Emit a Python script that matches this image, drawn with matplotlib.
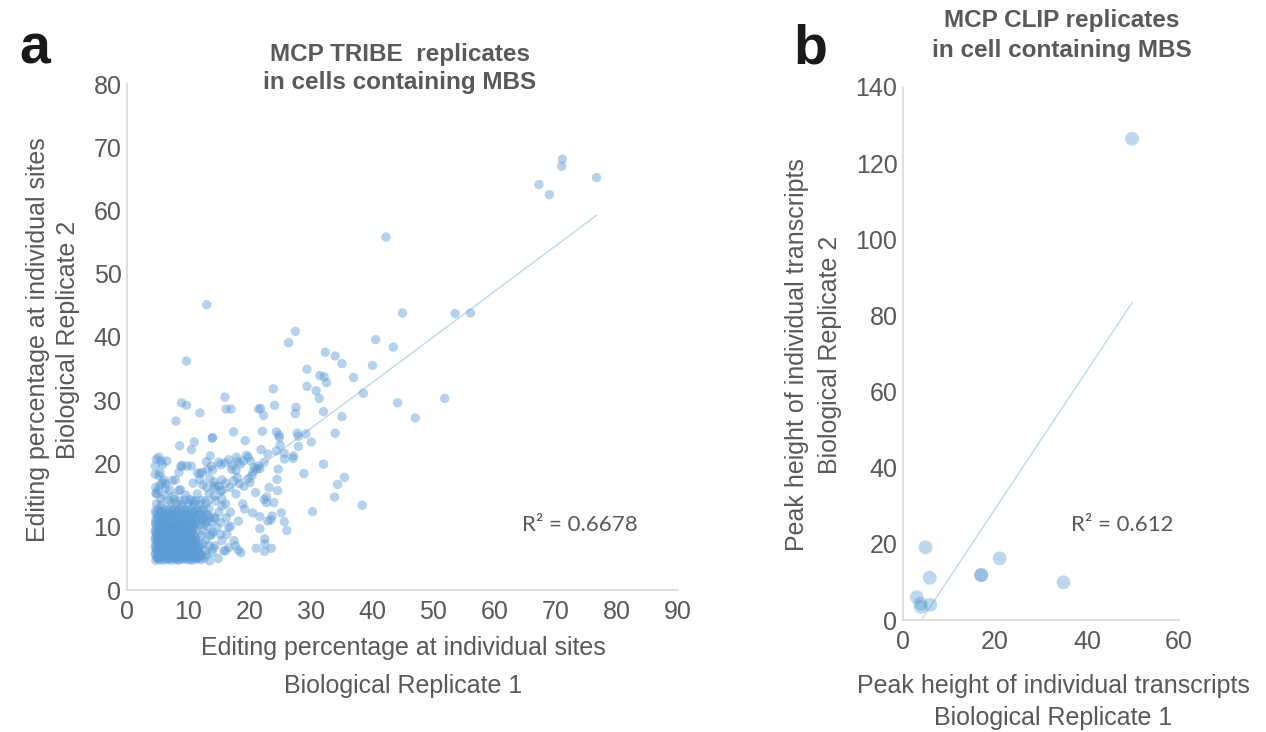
import matplotlib
matplotlib.use("Agg")
import matplotlib.pyplot as plt
import numpy as np


# Panel a: MCP TRIBE editing percentages (replicate 1, replicate 2)
# sparse points away from the main cluster
TRIBE_SPARSE = [
    (71.1, 68.1), (71.0, 67.0), (76.7, 65.2), (67.3, 64.1), (69.0, 62.5),
    (42.3, 55.8), (13.0, 45.1), (45.0, 43.8), (53.6, 43.7), (56.1, 43.8),
    (27.5, 40.9), (26.4, 39.1), (40.6, 39.6), (43.5, 38.4), (32.4, 37.6),
    (34.0, 37.0), (35.1, 35.8), (9.7, 36.2), (29.4, 34.9), (40.1, 35.5),
    (31.5, 33.9), (32.2, 33.7), (32.6, 32.8), (37.0, 33.6), (29.4, 32.2),
    (30.9, 31.5), (38.6, 31.1), (31.4, 30.3), (23.9, 31.8), (16.0, 30.5),
    (44.2, 29.6), (47.1, 27.2), (51.9, 30.3), (8.9, 29.6), (9.7, 29.2),
    (16.2, 28.6), (17.0, 28.6), (24.1, 29.2), (21.5, 28.6), (21.8, 28.7),
    (22.3, 27.6), (27.6, 28.9), (27.5, 27.9), (32.1, 28.2), (35.1, 27.4),
    (11.9, 28.0), (8.0, 26.7), (17.4, 25.0), (22.1, 25.1), (24.4, 25.0),
    (24.8, 24.5), (24.9, 24.1), (27.8, 24.8), (28.0, 24.3), (29.2, 24.7),
    (30.1, 23.4), (34.0, 24.8), (13.9, 24.0), (14.0, 24.1), (11.0, 23.4),
    (19.3, 23.6), (10.5, 22.2), (8.6, 22.8), (25.0, 22.9), (28.0, 22.7),
    (21.9, 22.2), (24.4, 22.0), (23.0, 21.5), (25.7, 21.6), (27.2, 21.2),
    (13.6, 21.2),
    (25.7, 20.7), (27.1, 20.8), (22.4, 20.2), (21.7, 19.2), (32.1, 19.9),
    (24.7, 19.1), (28.9, 18.4), (24.5, 17.5), (34.4, 16.7), (35.5, 17.8),
    (23.2, 16.2), (24.6, 15.7), (22.4, 14.3), (22.8, 14.7), (24.0, 13.8),
    (22.8, 13.8), (33.9, 14.7), (38.4, 13.4), (30.3, 12.4), (25.2, 12.2),
    (23.7, 11.7), (23.5, 11.1), (23.0, 10.9), (25.7, 10.8), (26.1, 9.4),
    (21.7, 11.6), (21.7, 9.7), (22.5, 8.1), (22.5, 7.3), (22.5, 6.1),
    (23.6, 6.6), (21.0, 15.4), (20.5, 12.2), (21.1, 6.6), (17.5, 7.8),
    (17.7, 7.0), (18.2, 6.3), (18.6, 5.9), (14.9, 5.0), (13.5, 4.6),
    (18.2, 10.9), (16.6, 9.9), (19.2, 12.8), (18.9, 13.6), (20.1, 17.0),
    (17.8, 15.2), (15.5, 15.7), (16.1, 13.6), (16.9, 12.3), (16.2, 11.4),
    (15.3, 10.7), (15.5, 7.8), (16.6, 6.7), (16.1, 6.2), (16.9, 10.1),
]

# semi-dense halo around the cluster
TRIBE_HALO = [
    (4.8, 20.7), (5.6, 20.4), (6.5, 20.4), (4.6, 19.6), (5.8, 19.8),
    (5.4, 18.5), (8.8, 19.5), (9.8, 19.6), (10.5, 19.6), (11.5, 18.5),
    (11.9, 18.4), (13.0, 20.3), (13.8, 19.6), (13.1, 19.0), (14.0, 19.0),
    (15.0, 20.2), (15.3, 19.8), (16.0, 20.1), (16.6, 20.6), (17.2, 19.7),
    (17.9, 21.0), (18.1, 20.3), (18.5, 19.9), (19.0, 20.4), (19.5, 21.3),
    (19.8, 21.0), (20.2, 20.4), (20.8, 19.4), (21.2, 19.1), (21.5, 19.6),
    (7.9, 17.4), (6.0, 17.4), (5.4, 16.6), (6.3, 16.1), (7.0, 15.8),
    (4.7, 15.3), (5.1, 15.8), (10.8, 16.9), (8.7, 15.9), (11.9, 17.4),
    (12.4, 16.6), (13.0, 16.2), (13.5, 17.6), (14.2, 17.1), (15.0, 16.4),
    (15.5, 17.4), (16.1, 16.9), (16.8, 16.2), (17.4, 17.3), (18.0, 17.8),
    (18.4, 16.8), (19.1, 16.4), (19.8, 17.6), (20.4, 18.1), (20.6, 18.7),
    (17.1, 19.1), (17.8, 18.9), (5.2, 21.0), (4.6, 18.3), (5.2, 18.1),
    (5.8, 17.0), (4.7, 16.2), (4.9, 15.2), (5.5, 14.4), (6.3, 16.8),
    (7.4, 17.3), (9.0, 19.7), (8.5, 18.6), (12.3, 18.6), (11.5, 15.2),
    (10.6, 14.1), (12.8, 14.1), (8.5, 15.7), (14.4, 16.5), (15.3, 15.7),
    (15.5, 14.4), (14.2, 14.9), (14.2, 16.2), (13.4, 15.2), (14.4, 14.1),
    (15.5, 13.3), (15.0, 12.3), (14.2, 11.5), (14.7, 9.9), (13.9, 8.8),
    (15.3, 8.8), (14.4, 7.0), (15.8, 6.2), (13.9, 5.9), (16.3, 8.8),
    (9.6, 15.0), (7.6, 14.8), (6.2, 14.9),
]

# dense band above the core
TRIBE_BAND = [
    (4.7, 10.7), (5.4, 10.8), (6.3, 10.6), (7.0, 10.7), (8.0, 10.9), (8.8, 10.6),
    (9.7, 10.8), (10.5, 10.7), (11.3, 10.6), (12.2, 10.9), (13.0, 10.7), (13.8, 10.8),
    (5.0, 11.4), (5.8, 11.3), (6.6, 11.5), (7.5, 11.4), (8.3, 11.3), (9.2, 11.5),
    (10.0, 11.4), (11.0, 11.3), (12.6, 11.5), (13.5, 11.4), (14.4, 11.3),
    (4.7, 12.1), (5.5, 12.2), (6.4, 12.0), (7.2, 12.1), (8.1, 12.2), (9.0, 12.0),
    (9.9, 12.1), (10.8, 12.2), (11.7, 12.0), (12.9, 12.1),
    (5.1, 12.8), (5.9, 12.9), (6.9, 12.7), (7.8, 12.8), (8.6, 12.9), (9.5, 12.7),
    (10.5, 12.8), (11.4, 12.9), (12.4, 12.7), (13.4, 12.8),
    (4.8, 13.6), (5.6, 13.5), (7.2, 13.7), (8.1, 13.6), (9.0, 13.5), (10.0, 13.7),
    (10.9, 13.6), (11.9, 13.5), (13.0, 13.7),
    (6.9, 14.2), (7.7, 14.3), (8.6, 14.1), (9.4, 14.2), (10.3, 14.3), (11.2, 14.1),
    (12.1, 14.2),
    (12.8, 6.2), (13.4, 7.0), (12.9, 7.9), (13.6, 8.6), (12.5, 9.3), (13.2, 10.0),
    (14.0, 9.2), (12.2, 8.6), (14.1, 6.6), (13.0, 5.6), (12.4, 7.3),
    (4.7, 10.4), (5.4, 10.3), (6.1, 10.5), (6.8, 10.4), (7.5, 10.3), (8.2, 10.5),
    (8.9, 10.4), (9.6, 10.3), (10.3, 10.5), (11.0, 10.4), (11.8, 10.3), (12.6, 10.4),
    (4.7, 11.1), (5.5, 11.0), (6.2, 11.2), (7.0, 11.1), (7.8, 11.0), (8.7, 11.2),
    (9.6, 11.1), (10.5, 11.0), (11.5, 11.2), (12.3, 11.1),
    (5.0, 11.8), (5.9, 11.7), (6.8, 11.9), (7.7, 11.8), (8.6, 11.7), (9.5, 11.9),
    (10.4, 11.8), (11.3, 11.7), (12.2, 11.9), (13.2, 11.8),
    (4.7, 12.5), (5.5, 12.4), (6.4, 12.6), (7.3, 12.5), (8.2, 12.4), (9.1, 12.6),
    (10.0, 12.5), (10.9, 12.4), (11.9, 12.6),
]

# solid core of low editing sites
TRIBE_CORE = [
    (4.7, 4.7), (5.3, 4.8), (5.9, 4.7), (6.6, 4.9), (7.2, 4.7), (7.9, 4.8), (8.5, 4.7),
    (9.2, 4.9), (9.9, 4.8), (10.6, 4.7), (11.3, 4.9), (12.0, 4.8), (12.6, 5.0),
    (4.9, 5.3), (5.5, 5.2), (6.2, 5.4), (6.9, 5.3), (7.5, 5.2), (8.2, 5.4), (8.8, 5.3),
    (9.5, 5.2), (10.2, 5.4), (10.9, 5.3), (11.6, 5.2), (12.3, 5.4),
    (4.7, 5.9), (5.2, 6.0), (5.8, 5.8), (6.5, 5.9), (7.1, 6.0), (7.8, 5.8), (8.5, 6.0),
    (9.1, 5.9), (9.8, 5.8), (10.4, 6.0), (11.1, 5.9), (11.8, 5.8),
    (4.8, 6.5), (5.5, 6.4), (6.1, 6.6), (6.8, 6.5), (7.4, 6.4), (8.1, 6.6), (8.7, 6.5),
    (9.4, 6.4), (10.0, 6.6), (10.7, 6.5), (11.4, 6.4),
    (4.7, 7.1), (5.3, 7.2), (5.9, 7.0), (6.6, 7.1), (7.2, 7.2), (7.9, 7.0), (8.6, 7.1),
    (9.2, 7.2), (9.9, 7.0), (10.5, 7.1), (11.2, 7.2), (11.9, 7.0),
    (4.9, 7.7), (5.6, 7.6), (6.3, 7.8), (6.9, 7.7), (7.6, 7.6), (8.3, 7.8), (8.9, 7.7),
    (9.6, 7.6), (10.3, 7.8), (11.0, 7.7),
    (4.7, 8.3), (5.3, 8.4), (6.0, 8.2), (6.6, 8.3), (7.3, 8.4), (8.0, 8.2), (8.6, 8.3),
    (9.3, 8.4), (9.9, 8.2), (10.6, 8.3), (11.3, 8.4),
    (4.8, 8.9), (5.5, 8.8), (6.2, 9.0), (6.8, 8.9), (7.5, 8.8), (8.2, 9.0), (8.8, 8.9),
    (9.5, 8.8), (10.2, 9.0),
    (4.7, 9.5), (5.3, 9.6), (5.9, 9.4), (6.6, 9.5), (7.2, 9.6), (7.9, 9.4), (8.5, 9.5),
    (9.2, 9.6), (9.9, 9.4), (10.6, 9.5), (11.4, 9.6),
    (4.9, 10.1), (5.6, 10.0), (6.2, 10.2), (6.9, 10.1), (7.6, 10.0), (8.2, 10.2),
    (8.9, 10.1), (9.6, 10.0), (10.4, 10.2),
    (5.0, 5.0), (6.0, 5.6), (7.0, 6.2), (8.0, 5.1), (5.6, 6.8), (6.4, 7.4), (7.7, 6.8),
    (5.2, 8.0), (6.3, 8.6), (7.0, 9.2), (8.4, 7.4), (9.0, 6.0), (5.9, 9.8), (7.6, 8.5),
    (5.0, 5.0), (5.7, 5.1), (6.4, 4.9), (7.0, 5.0), (7.7, 5.1), (8.4, 4.9), (9.0, 5.0),
    (9.7, 5.1), (10.3, 4.9), (11.0, 5.0), (11.7, 5.1),
    (4.6, 5.6), (5.4, 5.7), (6.0, 5.5), (6.7, 5.6), (7.3, 5.7), (8.0, 5.5), (8.7, 5.6),
    (9.3, 5.7), (10.0, 5.5), (10.7, 5.6), (11.3, 5.7), (12.0, 5.5),
    (5.0, 6.2), (5.7, 6.3), (6.3, 6.1), (7.0, 6.2), (7.6, 6.3), (8.3, 6.1), (9.0, 6.2),
    (9.6, 6.3), (10.3, 6.1), (10.9, 6.2), (11.6, 6.3),
    (4.6, 6.8), (5.3, 6.9), (5.9, 6.7), (6.6, 6.8), (7.2, 6.9), (7.9, 6.7), (8.5, 6.8),
    (9.2, 6.9), (9.8, 6.7), (10.5, 6.8), (11.1, 6.9), (11.8, 6.7),
    (5.0, 7.4), (5.7, 7.5), (6.3, 7.3), (7.0, 7.4), (7.6, 7.5), (8.3, 7.3), (8.9, 7.4),
    (9.6, 7.5), (10.2, 7.3), (10.9, 7.4), (11.5, 7.5),
    (4.6, 8.0), (5.3, 8.1), (5.9, 7.9), (6.6, 8.0), (7.2, 8.1), (7.9, 7.9), (8.6, 8.0),
    (9.2, 8.1), (9.9, 7.9), (10.5, 8.0), (11.2, 8.1),
    (5.0, 8.6), (5.7, 8.7), (6.3, 8.5), (7.0, 8.6), (7.6, 8.7), (8.3, 8.5), (9.0, 8.6),
    (9.6, 8.7), (10.3, 8.5), (11.0, 8.6),
    (4.6, 9.2), (5.3, 9.3), (5.9, 9.1), (6.6, 9.2), (7.2, 9.3), (7.9, 9.1), (8.6, 9.2),
    (9.2, 9.3), (9.9, 9.1), (10.6, 9.2),
    (5.0, 9.8), (5.7, 9.9), (6.3, 9.7), (7.0, 9.8), (7.6, 9.9), (8.3, 9.7), (9.0, 9.8),
    (9.7, 9.9), (10.3, 9.7), (11.0, 9.8),
]

R2_TRIBE = "R² = 0.6678"

# Panel b: MCP CLIP peak heights (replicate 1, replicate 2)
CLIP_REP1 = [49.8, 4.9, 5.8, 3.0, 3.8, 3.9, 5.9, 17.0, 17.0, 21.0, 34.9]
CLIP_REP2 = [126.4, 19.1, 11.1, 6.0, 4.3, 3.4, 4.0, 11.8, 11.8, 16.2, 9.9]

R2_CLIP = "R² = 0.612"

W, H = 1266, 732
GRAY = "#595959"
AXIS_GRAY = "#D9D9D9"
DOT = "#5B9BD5"
TREND = "#BDD7EE"

plt.rcParams["font.family"] = ["Liberation Sans", "DejaVu Sans"]


def px_box(left, top, right, bottom):
    # pixel box of the reference -> figure fraction rect
    return [left / W, 1 - bottom / H, (right - left) / W, (bottom - top) / H]


def style_axes(ax):
    for side in ["top", "right"]:
        ax.spines[side].set_visible(False)
    for side in ["left", "bottom"]:
        ax.spines[side].set_color(AXIS_GRAY)
        ax.spines[side].set_linewidth(1.2)
    ax.tick_params(length=0, labelsize=18, colors=GRAY)
    ax.tick_params(axis="x", pad=7)
    ax.tick_params(axis="y", pad=4)


def add_trend(ax, x, y):
    slope, intercept = np.polyfit(x, y, 1)
    xs = np.array([min(x), max(x)])
    ax.plot(xs, slope * xs + intercept, color=TREND, lw=1.0, zorder=1)


fig = plt.figure(figsize=(W / 100, H / 100), dpi=100)

# ---- panel a
tribe = np.array(TRIBE_SPARSE + TRIBE_HALO + TRIBE_BAND + TRIBE_CORE)
ax_a = fig.add_axes(px_box(127, 84, 678, 590))
ax_a.scatter(tribe[:, 0], tribe[:, 1], s=46, color=DOT, alpha=0.45,
             edgecolors="none", zorder=2)
add_trend(ax_a, tribe[:, 0], tribe[:, 1])
ax_a.set_xlim(0, 90)
ax_a.set_ylim(0, 80)
ax_a.set_xticks(np.arange(0, 91, 10))
ax_a.set_yticks(np.arange(0, 81, 10))
style_axes(ax_a)
ax_a.text(64.5, 10.3, R2_TRIBE, fontsize=16, color=GRAY, family="Lato",
          va="center", ha="left")

fig.text(35 / W, 1 - 50 / H, "a", fontsize=40, fontweight="bold",
         color="#1a1a1a", ha="center", va="center")
fig.text(400 / W, 1 - 54 / H, "MCP TRIBE  replicates", fontsize=17.5,
         fontweight="bold", color=GRAY, ha="center", va="center")
fig.text(400 / W, 1 - 83 / H, "in cells containing MBS", fontsize=17.5,
         fontweight="bold", color=GRAY, ha="center", va="center")
fig.text(38 / W, 1 - 340 / H, "Editing percentage at individual sites",
         fontsize=18, color=GRAY, rotation=90, ha="center", va="center")
fig.text(68 / W, 1 - 340 / H, "Biological Replicate 2",
         fontsize=18, color=GRAY, rotation=90, ha="center", va="center")
fig.text(403 / W, 1 - 648 / H, "Editing percentage at individual sites",
         fontsize=18, color=GRAY, ha="center", va="center")
fig.text(403 / W, 1 - 686 / H, "Biological Replicate 1",
         fontsize=18, color=GRAY, ha="center", va="center")

# ---- panel b
ax_b = fig.add_axes(px_box(903, 87, 1179, 620))
ax_b.scatter(CLIP_REP1, CLIP_REP2, s=100, color=DOT, alpha=0.4,
             edgecolors="none", zorder=2)
add_trend(ax_b, CLIP_REP1, CLIP_REP2)
ax_b.set_xlim(0, 60)
ax_b.set_ylim(0, 140)
ax_b.set_xticks(np.arange(0, 61, 20))
ax_b.set_yticks(np.arange(0, 141, 20))
style_axes(ax_b)
ax_b.text(36.5, 25.0, R2_CLIP, fontsize=16, color=GRAY, family="Lato",
          va="center", ha="left")

fig.text(810 / W, 1 - 50 / H, "b", fontsize=40, fontweight="bold",
         color="#1a1a1a", ha="center", va="center")
fig.text(1062 / W, 1 - 20 / H, "MCP CLIP replicates", fontsize=17.5,
         fontweight="bold", color=GRAY, ha="center", va="center")
fig.text(1062 / W, 1 - 50 / H, "in cell containing MBS", fontsize=17.5,
         fontweight="bold", color=GRAY, ha="center", va="center")
fig.text(797 / W, 1 - 355 / H, "Peak height of individual transcripts",
         fontsize=18, color=GRAY, rotation=90, ha="center", va="center")
fig.text(830 / W, 1 - 355 / H, "Biological Replicate 2",
         fontsize=18, color=GRAY, rotation=90, ha="center", va="center")
fig.text(1053 / W, 1 - 686 / H, "Peak height of individual transcripts",
         fontsize=18, color=GRAY, ha="center", va="center")
fig.text(1053 / W, 1 - 718 / H, "Biological Replicate 1",
         fontsize=18, color=GRAY, ha="center", va="center")

fig.savefig("out.png", dpi=100, facecolor="white")
